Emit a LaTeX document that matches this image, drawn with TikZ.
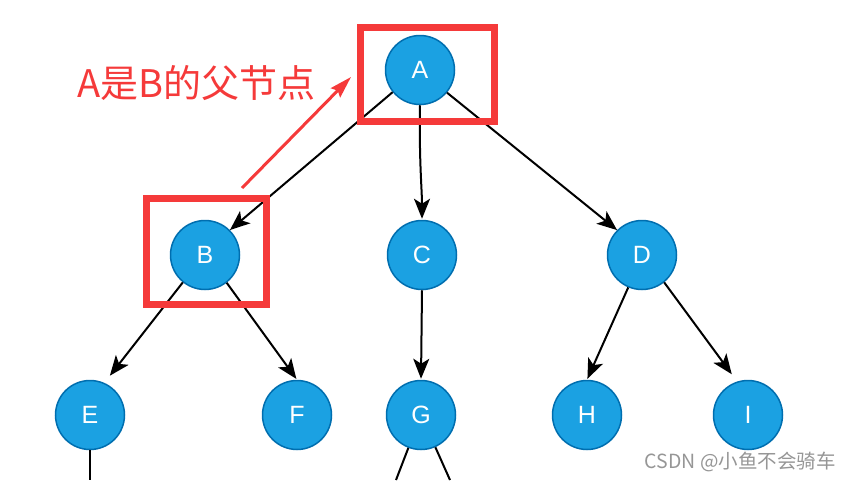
\documentclass[tikz,border=0pt]{standalone}
\usepackage{fontspec}
\setmainfont{Liberation Sans}
\newfontfamily\cjk{Noto Sans CJK SC}
\usetikzlibrary{arrows.meta}
\definecolor{nodefill}{HTML}{1BA1E2}
\definecolor{nodeline}{HTML}{006EAF}
\definecolor{mark}{RGB}{245,58,58}
\definecolor{wm}{RGB}{150,150,150}
\tikzset{
  treenode/.style={circle, fill=nodefill, draw=nodeline, line width=1.5pt, minimum size=69pt, inner sep=0pt, text=white, font=\fontsize{25}{29}\selectfont},
  edge/.style={line width=2pt, -{Stealth[length=20pt,width=16pt,inset=5pt]}},
  plainedge/.style={line width=2pt},
  redbox/.style={draw=mark, line width=7pt},
  redarrow/.style={draw=mark, line width=3pt, -{Stealth[length=22pt,width=13pt,inset=3pt]}}
}
\begin{document}
\begin{tikzpicture}[x=1pt,y=-1pt]
\useasboundingbox (0,0) rectangle (851,480);
\node[treenode] (A) at (420,70) {A};
\node[treenode] (B) at (205,255) {B};
\node[treenode] (C) at (422,255) {C};
\node[treenode] (D) at (642,255) {D};
\node[treenode] (E) at (90,415) {E};
\node[treenode] (F) at (297,415) {F};
\node[treenode] (G) at (421,415) {G};
\node[treenode] (H) at (587,415) {H};
\node[treenode] (I) at (748,415) {I};
\coordinate (Eout) at (90,480);
\coordinate (Gl) at (396,480);
\coordinate (Gr) at (450,480);
\draw[edge] (A.219) -- (B.45);
\draw[edge, shorten >=1pt] (A.south) .. controls (419,160) and (422,190) .. (C.north);
\draw[edge] (A.-40) -- (D.135);
\draw[edge, shorten >=9pt] (B.231) -- (E.66);
\draw[edge, shorten >=1pt] (B.-52) -- (F.north);
\draw[edge, shorten >=1pt] (C.south) -- (G.north);
\draw[edge, shorten >=1pt] (D.247) -- (H.north);
\draw[edge, shorten >=9pt] (D.-51) -- (I.108);
\draw[plainedge] (E.south) -- (Eout);
\draw[plainedge] (G) -- (Gl);
\draw[plainedge] (G) -- (Gr);
\node[redbox, minimum width=134pt, minimum height=94pt, inner sep=0pt] (boxA) at (427,74) {};
\node[redbox, minimum width=120pt, minimum height=106pt, inner sep=0pt] (boxB) at (206.5,251.5) {};
\node[text=mark, font=\cjk\fontsize{38}{42}\selectfont, anchor=west, inner sep=0pt] (lbl) at (77,83) {A是B的父节点};
\coordinate (rs) at (242,188);
\coordinate (re) at (351,77);
\draw[redarrow] (rs) -- (re);
\node[text=wm, font=\cjk\fontsize{19.5}{23}\selectfont, anchor=east, inner sep=0pt] (wmk) at (836,462) {CSDN @小鱼不会骑车};
\end{tikzpicture}
\end{document}
